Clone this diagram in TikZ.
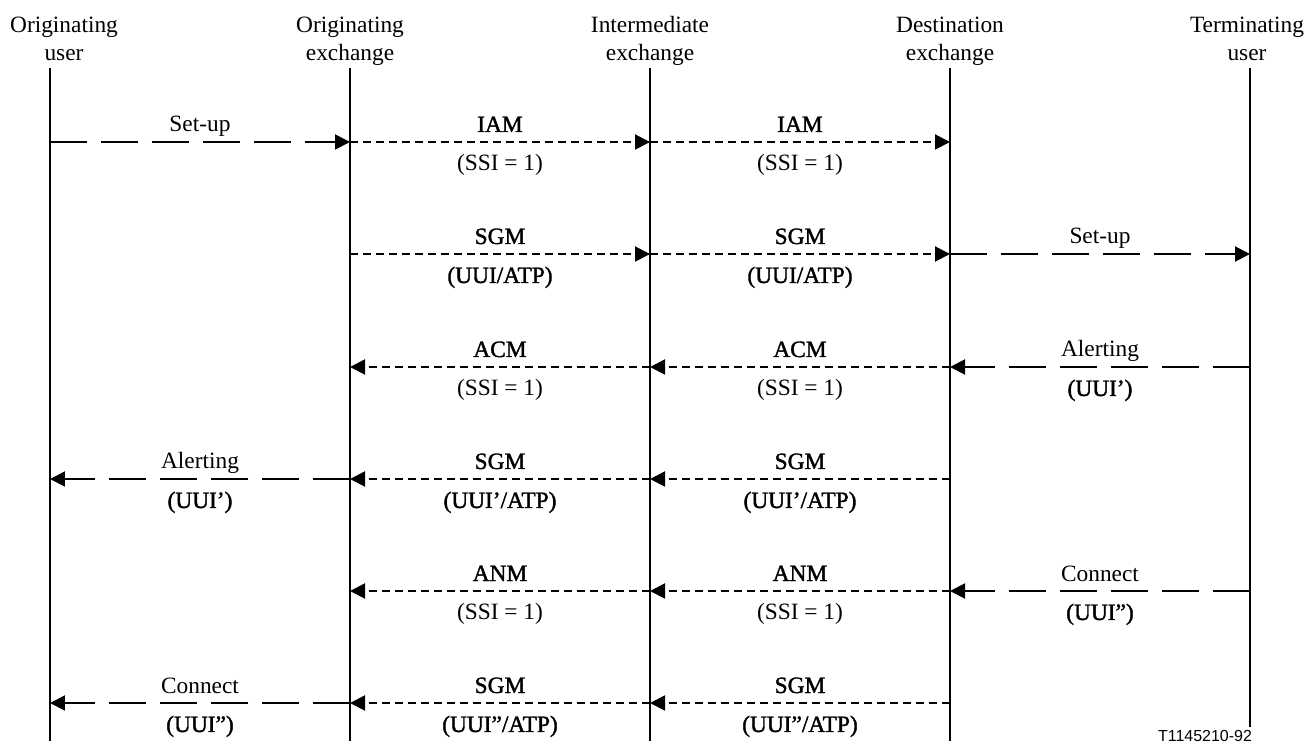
\documentclass[tikz,border=0pt]{standalone}
\usepackage{fontspec}
\setmainfont{Liberation Serif}
\newfontfamily\msgfont[FakeBold=1.5]{Liberation Serif}
\newfontfamily\tagfont{Liberation Sans}
\usepackage{tikz}
\usetikzlibrary{arrows.meta}
\tikzset{
    every node/.style={font=\fontsize{13.3}{15.9}\selectfont, inner sep=0pt},
    party/.style={align=center, anchor=north},
    lifeline/.style={line width=1.1pt},
    isup/.style={line width=1.1pt, -{Triangle[length=0.3cm, width=0.3cm]},
      dash pattern=on 0.16cm off 0.1cm},
    access/.style={line width=1.1pt, -{Triangle[length=0.3cm, width=0.3cm]},
      dash pattern=on 0.74cm off 0.28cm},
    msgup/.style={midway, anchor=base, yshift=0.2cm},
    msgdown/.style={midway, anchor=base, yshift=-0.58cm},
}

\begin{document}
\begin{tikzpicture}[x=0.02cm, y=0.02cm]
    \useasboundingbox (0,0) rectangle (1306,-756);

    % parties
    \node[party] (ou) at (64,-12.4) {\strut Originating\\\strut user};
    \node[party] (oe) at (350,-12.4) {\strut Originating\\\strut exchange};
    \node[party] (ie) at (650,-12.4) {\strut Intermediate\\\strut exchange};
    \node[party] (de) at (950,-12.4) {\strut Destination\\\strut exchange};
    \node[party] (tu) at (1247,-12.4) {\strut Terminating\\\strut user};

    \coordinate (ou-top) at (50,-68);
    \coordinate (oe-top) at (350,-68);
    \coordinate (ie-top) at (650,-68);
    \coordinate (de-top) at (950,-68);
    \coordinate (tu-top) at (1250,-68);
    \coordinate (bottom) at (0,-741);

    \draw[lifeline] (ou-top) -- (ou-top |- bottom);
    \draw[lifeline] (oe-top) -- (oe-top |- bottom);
    \draw[lifeline] (ie-top) -- (ie-top |- bottom);
    \draw[lifeline] (de-top) -- (de-top |- bottom);
    \draw[lifeline] (tu-top) -- (tu-top |- 0,-727);

    % message rows
    \coordinate (r1) at (0,-142);
    \coordinate (r2) at (0,-254);
    \coordinate (r3) at (0,-367);
    \coordinate (r4) at (0,-479);
    \coordinate (r5) at (0,-591);
    \coordinate (r6) at (0,-703);

    % set-up
    \draw[access] (ou-top |- r1) -- (oe-top |- r1)
      node[msgup] {Set-up};
    \draw[isup] (oe-top |- r1) -- (ie-top |- r1)
      node[msgup] {\msgfont IAM} node[msgdown] {(SSI = 1)};
    \draw[isup] (ie-top |- r1) -- (de-top |- r1)
      node[msgup] {\msgfont IAM} node[msgdown] {(SSI = 1)};

    \draw[isup] (oe-top |- r2) -- (ie-top |- r2)
      node[msgup] {\msgfont SGM} node[msgdown] {\msgfont (UUI/ATP)};
    \draw[isup] (ie-top |- r2) -- (de-top |- r2)
      node[msgup] {\msgfont SGM} node[msgdown] {\msgfont (UUI/ATP)};
    \draw[access] (de-top |- r2) -- (tu-top |- r2)
      node[msgup] {Set-up};

    % alerting
    \draw[access] (tu-top |- r3) -- (de-top |- r3)
      node[msgup] {Alerting} node[msgdown] {\msgfont (UUI’)};
    \draw[isup] (de-top |- r3) -- (ie-top |- r3)
      node[msgup] {\msgfont ACM} node[msgdown] {(SSI = 1)};
    \draw[isup] (ie-top |- r3) -- (oe-top |- r3)
      node[msgup] {\msgfont ACM} node[msgdown] {(SSI = 1)};

    \draw[isup] (de-top |- r4) -- (ie-top |- r4)
      node[msgup] {\msgfont SGM} node[msgdown] {\msgfont (UUI’/ATP)};
    \draw[isup] (ie-top |- r4) -- (oe-top |- r4)
      node[msgup] {\msgfont SGM} node[msgdown] {\msgfont (UUI’/ATP)};
    \draw[access] (oe-top |- r4) -- (ou-top |- r4)
      node[msgup] {Alerting} node[msgdown] {\msgfont (UUI’)};

    % connect
    \draw[access] (tu-top |- r5) -- (de-top |- r5)
      node[msgup] {Connect} node[msgdown] {\msgfont (UUI”)};
    \draw[isup] (de-top |- r5) -- (ie-top |- r5)
      node[msgup] {\msgfont ANM} node[msgdown] {(SSI = 1)};
    \draw[isup] (ie-top |- r5) -- (oe-top |- r5)
      node[msgup] {\msgfont ANM} node[msgdown] {(SSI = 1)};

    \draw[isup] (de-top |- r6) -- (ie-top |- r6)
      node[msgup] {\msgfont SGM} node[msgdown] {\msgfont (UUI”/ATP)};
    \draw[isup] (ie-top |- r6) -- (oe-top |- r6)
      node[msgup] {\msgfont SGM} node[msgdown] {\msgfont (UUI”/ATP)};
    \draw[access] (oe-top |- r6) -- (ou-top |- r6)
      node[msgup] {Connect} node[msgdown] {\msgfont (UUI”)};

    \node[anchor=base, font=\fontsize{9.1}{11}\tagfont] (tag) at (1205,-742) {T1145210-92};
\end{tikzpicture}
\end{document}
